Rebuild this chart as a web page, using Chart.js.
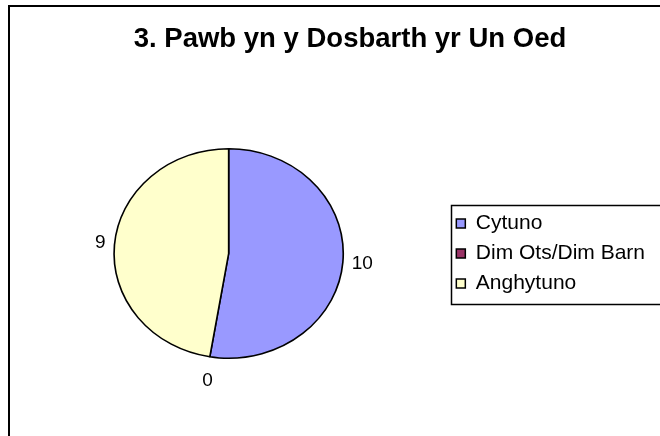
<!DOCTYPE html>
<html>
<head>
<meta charset="utf-8">
<script src="https://cdn.jsdelivr.net/npm/chart.js@4/dist/chart.umd.min.js"></script>
<style>
  html, body { margin: 0; padding: 0; background: #fff; }
  #wrap { width: 660px; height: 436px; }
</style>
</head>
<body>
<div id="wrap"><canvas id="c" width="660" height="436"></canvas></div>
<script>
const titleText = '3. Pawb yn y Dosbarth yr Un Oed';
const categories = ['Cytuno', 'Dim Ots/Dim Barn', 'Anghytuno'];
const values = [10, 0, 9];
const sliceColors = ['#9999FF', '#993366', '#FFFFCC'];

const FONT = "'Liberation Sans', Arial, sans-serif";
const ELLIPSE_X = 1.094;
const TITLE_CENTER_X = 350;

const framePlugin = {
  id: 'frame',
  beforeDraw(chart) {
    const ctx = chart.ctx;
    ctx.save();
    ctx.fillStyle = '#fff';
    ctx.fillRect(0, 0, chart.width, chart.height);
    ctx.strokeStyle = '#000';
    ctx.lineWidth = 2;
    ctx.strokeRect(9, 6, 800, 600);
    ctx.restore();
  },
  afterLayout(chart) {
    const t = chart.titleBlock;
    if (t) {
      const dx = TITLE_CENTER_X - (t.left + t.right) / 2;
      t.left += dx; t.right += dx;
    }
  },
  afterDraw(chart) {
    const lg = chart.legend;
    if (!lg || !lg.legendHitBoxes || !lg.legendHitBoxes.length) return;
    const hb = lg.legendHitBoxes;
    const first = hb[0], last = hb[hb.length - 1];
    const ctx = chart.ctx;
    ctx.save();
    ctx.strokeStyle = '#000';
    ctx.lineWidth = 1.5;
    const l = Math.round(first.left - 5) + 0.5, t = Math.round(first.top - 8) + 0.5, b = Math.round(last.top + last.height + 10) + 0.5;
    ctx.strokeRect(l, t, 400, b - t);
    ctx.restore();
  }
};

const ellipsePlugin = {
  id: 'ellipse',
  beforeDatasetsDraw(chart) {
    const arc = chart.getDatasetMeta(0).data[0];
    const ctx = chart.ctx;
    ctx.save();
    ctx.translate(arc.x, arc.y);
    ctx.scale(ELLIPSE_X, 1);
    ctx.translate(-arc.x, -arc.y);
  },
  afterDatasetsDraw(chart) {
    const ctx = chart.ctx;
    ctx.restore();
    const meta = chart.getDatasetMeta(0);
    const fs = 19;
    ctx.save();
    ctx.font = fs + 'px ' + FONT;
    ctx.fillStyle = '#000';
    ctx.textAlign = 'center';
    ctx.textBaseline = 'middle';
    meta.data.forEach((a, i) => {
      const mid = (a.startAngle + a.endAngle) / 2;
      const c = Math.cos(mid), s = Math.sin(mid);
      const ex = a.x + a.outerRadius * ELLIPSE_X * c;
      const ey = a.y + a.outerRadius * s;
      const txt = String(values[i]);
      const w = ctx.measureText(txt).width;
      const gap = 9;
      const tx = ex + c * (gap + w / 2);
      const ty = ey + s * (gap + fs * 0.55 + 5);
      ctx.fillText(txt, tx, ty);
    });
    ctx.restore();
  }
};

new Chart(document.getElementById('c'), {
  type: 'pie',
  data: {
    labels: categories,
    datasets: [{
      data: values,
      backgroundColor: sliceColors,
      borderColor: '#000',
      borderWidth: 1.5,
      hoverOffset: 0
    }]
  },
  options: {
    responsive: false,
    animation: false,
    devicePixelRatio: 1,
    layout: { padding: { left: 10, right: 5, top: 0, bottom: 77 } },
    plugins: {
      title: {
        display: true,
        text: titleText,
        color: '#000',
        font: { family: FONT, size: 27.5, weight: 'bold' },
        padding: { top: 23, bottom: 92 }
      },
      legend: {
        position: 'right',
        align: 'center',
        fullSize: false,
        labels: {
          color: '#000',
          font: { family: FONT, size: 21 },
          boxWidth: 9,
          boxHeight: 9,
          padding: 9
        }
      },
      tooltip: { enabled: false }
    }
  },
  plugins: [framePlugin, ellipsePlugin]
});
</script>
</body>
</html>
